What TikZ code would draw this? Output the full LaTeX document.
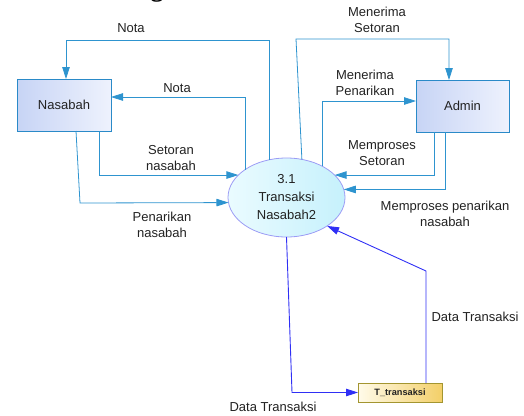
\documentclass[tikz,border=0pt]{standalone}
\usepackage{fontspec}
\setmainfont{Liberation Sans}
\newfontfamily\titlefont{Liberation Serif}
\usetikzlibrary{arrows.meta,shapes.geometric}

\definecolor{flowline}{HTML}{2E94CF}
\definecolor{dataline}{HTML}{2F2FF5}
\definecolor{boxedge}{HTML}{2A8AC8}
\definecolor{boxfillA}{HTML}{C7D4F5}
\definecolor{boxfillB}{HTML}{EEF2FD}
\definecolor{procedge}{HTML}{9C9CF5}
\definecolor{procfillA}{HTML}{EAFBFF}
\definecolor{procfillB}{HTML}{C6F1FC}
\definecolor{storeedge}{HTML}{A39530}
\definecolor{storefillA}{HTML}{FFFBEA}
\definecolor{storefillB}{HTML}{F3CF68}
\definecolor{txt}{HTML}{222222}

\tikzset{
  entity/.style={draw=boxedge, line width=0.9pt, left color=boxfillA, right color=boxfillB,
    minimum width=94pt, minimum height=52pt, inner sep=0pt, outer sep=0pt,
    font=\fontsize{13}{15}\selectfont, text=txt},
  process/.style={ellipse, draw=procedge, line width=0.8pt, left color=procfillA, right color=procfillB,
    minimum width=117pt, minimum height=79pt, inner sep=0pt, outer sep=0pt, align=center,
    font=\fontsize{13}{18}\selectfont, text=txt},
  store/.style={draw=storeedge, line width=0.9pt, left color=storefillA, right color=storefillB,
    minimum width=84pt, minimum height=19pt, inner sep=0pt, outer sep=0pt,
    font=\fontsize{9.2}{11}\selectfont\bfseries, text=txt},
  flow/.style={draw=flowline, line width=0.8pt, -{Triangle[length=12pt,width=7.5pt]}},
  dataflow/.style={draw=dataline, line width=0.9pt, -{Triangle[length=12pt,width=7.5pt]}},
  lbl/.style={align=center, inner sep=0pt, font=\fontsize{13}{16}\selectfont, text=txt},
}

\begin{document}
\begin{tikzpicture}[x=1pt, y=-1pt]
\useasboundingbox (0,0) rectangle (524,415);

% title, mostly above the page edge
\node[anchor=base west, inner sep=0pt, font=\titlefont\fontsize{26}{30}\selectfont\bfseries]
  (title) at (-10,-4) {Data Flow Diagram Level 2};

% entities, process and data store
\node[entity] (nas) at (64,105) {Nasabah};
\node[entity, minimum width=93pt] (adm) at (462.5,106) {Admin};
\node[process] (proc) at (286.5,197.5) {3.1\\Transaksi\\Nasabah2};
\node[store] (tt) at (400,392.5) {T\_transaksi};

% bend points
\coordinate (ms) at (296,39);
\coordinate (pn) at (80,203);
\coordinate (db) at (292,392.5);
\coordinate (dr) at (426,271);

% flows between process and Nasabah
\draw[flow] (proc.115) |- ([xshift=2pt,yshift=39pt]nas.north) -- ([xshift=2pt]nas.north);
\draw[flow] (proc.146) |- ([yshift=8pt]nas.east);
\draw[flow] ([xshift=35pt]nas.south) |- (proc.155);
\draw[flow] ([xshift=12pt]nas.south) -- (pn) -- (proc.185.4);

% flows between process and Admin
\draw[flow] (proc.68) -- (ms) -| ([xshift=-13.5pt]adm.north);
\draw[flow] (proc.41.5) |- ([yshift=5pt]adm.west);
\draw[flow] ([xshift=-28.5pt]adm.south) |- (proc.25);
\draw[flow] ([xshift=-17.5pt]adm.south) |- (proc.8.5);

% flows with the data store
\draw[dataflow] (proc.south) -- (db) -- (tt.west);
\draw[dataflow] ([xshift=26pt]tt.north) -- (dr) -- (proc.325);

% flow labels
\node[lbl] (l1) at (131,28) {Nota};
\node[lbl] (l2) at (177,88) {Nota};
\node[lbl] (l3) at (377,20) {Menerima\\Setoran};
\node[lbl] (l4) at (365,82.5) {Menerima\\Penarikan};
\node[lbl] (l5) at (382,153.5) {Memproses\\Setoran};
\node[lbl] (l6) at (445,214) {Memproses penarikan\\nasabah};
\node[lbl] (l7) at (171,158) {Setoran\\nasabah};
\node[lbl] (l8) at (162,225) {Penarikan\\nasabah};
\node[lbl] (l9) at (273,407) {Data Transaksi};
\node[lbl] (l10) at (475,317) {Data Transaksi};
\end{tikzpicture}
\end{document}
